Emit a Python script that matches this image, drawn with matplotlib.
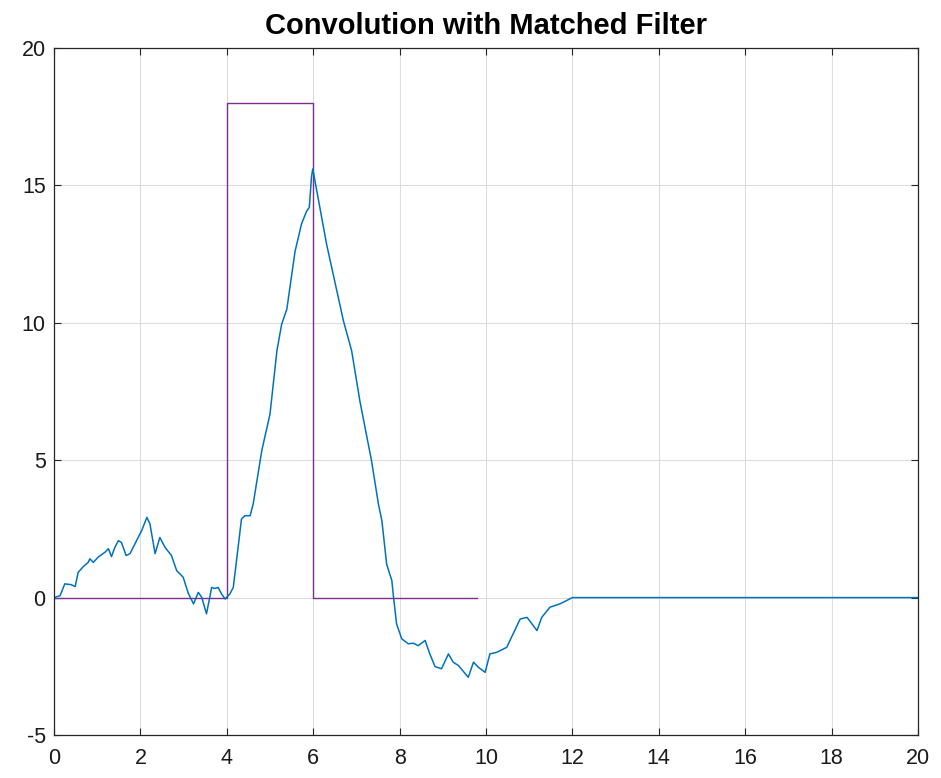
import matplotlib
matplotlib.use('Agg')
import matplotlib.pyplot as plt

# matched filter output
conv_t = [0.0, 0.14, 0.25, 0.40, 0.49, 0.56, 0.68, 0.79, 0.83, 0.91, 1.02, 1.18, 1.26, 1.33,
          1.41, 1.49, 1.56, 1.67, 1.76, 1.91, 2.03, 2.15, 2.22, 2.34, 2.45, 2.57, 2.72, 2.84,
          2.91, 2.99, 3.11, 3.23, 3.34, 3.42, 3.53, 3.65, 3.72, 3.80, 3.88, 3.96, 4.07, 4.15,
          4.34, 4.42, 4.54, 4.61, 4.81, 5.00, 5.16, 5.27, 5.39, 5.58, 5.73, 5.85, 5.91, 5.96,
          5.99, 6.31, 6.70, 6.89, 7.08, 7.35, 7.51, 7.59, 7.70, 7.82, 7.86, 7.93, 8.05, 8.20,
          8.32, 8.43, 8.59, 8.70, 8.82, 8.97, 9.13, 9.24, 9.36, 9.59, 9.71, 9.82, 9.98, 10.09,
          10.25, 10.48, 10.79, 10.95, 11.18, 11.29, 11.48, 11.71, 11.90, 12.0, 20.0]
conv_y = [0.0, 0.07, 0.5, 0.47, 0.4, 0.92, 1.13, 1.28, 1.41, 1.28, 1.47, 1.65, 1.78, 1.49,
          1.83, 2.07, 2.01, 1.53, 1.6, 2.07, 2.44, 2.92, 2.69, 1.6, 2.19, 1.83, 1.53, 0.98,
          0.87, 0.74, 0.15, -0.23, 0.19, 0.01, -0.59, 0.37, 0.33, 0.37, 0.13, -0.05, 0.13, 0.37,
          2.86, 2.98, 2.98, 3.4, 5.35, 6.68, 8.98, 9.95, 10.5, 12.6, 13.6, 14.07, 14.2, 15.3,
          15.6, 12.86, 10.07, 8.98, 7.16, 4.98, 3.4, 2.8, 1.22, 0.62, 0.01, -0.96, -1.5, -1.68,
          -1.66, -1.75, -1.56, -2.05, -2.51, -2.59, -2.05, -2.35, -2.47, -2.9, -2.35, -2.53, -2.72, -2.05,
          -1.99, -1.81, -0.78, -0.72, -1.2, -0.72, -0.35, -0.23, -0.08, 0.0, 0.0]

# rectangular pulse
pulse_t = [0.0, 4.0, 4.0, 6.0, 6.0, 9.8]
pulse_y = [0.0, 0.0, 18.0, 18.0, 0.0, 0.0]

plt.rcParams['font.family'] = ['Liberation Sans', 'DejaVu Sans']
plt.rcParams['axes.unicode_minus'] = False

fig = plt.figure(figsize=(9.41, 7.78), dpi=100)
ax = fig.add_axes([54/941, 1-735/778, 864/941, 687/778])

ax.plot(pulse_t, pulse_y, color='#7E2F8E', lw=1.0)
ax.plot(conv_t, conv_y, color='#0072BD', lw=1.1)

ax.set_xlim(0, 20)
ax.set_ylim(-5, 20)
ax.set_xticks(range(0, 21, 2))
ax.set_yticks(range(-5, 21, 5))
ax.grid(True, color='#dcdcdc', lw=0.8)
ax.set_axisbelow(True)
ax.tick_params(direction='in', top=True, right=True, length=5, width=0.8,
               labelsize=15.5, colors='#262626', labelcolor='#1a1a1a')
ax.tick_params(axis='x', pad=9)
ax.tick_params(axis='y', pad=6)
for s in ax.spines.values():
    s.set_color('#262626')
    s.set_linewidth(0.9)

ax.set_title('Convolution with Matched Filter', fontsize=21, fontweight='bold', pad=10)

fig.savefig('out.png', dpi=100, facecolor='white')
